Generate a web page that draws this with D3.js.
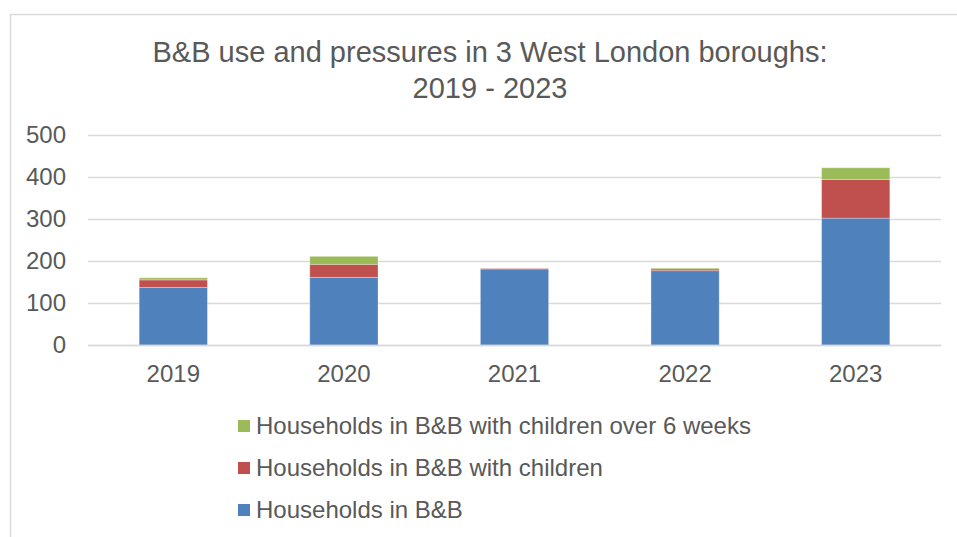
<!DOCTYPE html>
<html>
<head>
<meta charset="utf-8">
<script src="https://cdn.jsdelivr.net/npm/d3@7"></script>
<style>
  html, body { margin: 0; padding: 0; background: #fff; overflow: hidden; }
  svg { display: block; font-family: "Liberation Sans", Arial, sans-serif; }
</style>
</head>
<body>
<svg id="chart" width="957" height="537"></svg>
<script>
// Years on the category axis
const years = ["2019", "2020", "2021", "2022", "2023"];

// Stacked series (bottom to top)
const householdsInBB = [137, 161, 181, 177, 302];
const withChildren = [18, 31, 1, 4, 92];
const withChildrenOver6Weeks = [5, 19, 0, 2, 28];

const seriesNames = [
  "Households in B&B",
  "Households in B&B with children",
  "Households in B&B with children over 6 weeks"
];
const seriesColors = ["#4F81BD", "#C0504D", "#9BBB59"];

const yTicks = [0, 100, 200, 300, 400, 500];
const titleLines = ["B&B use and pressures in 3 West London boroughs:", "2019 - 2023"];

const rows = years.map((y, i) => ({
  year: y,
  s0: householdsInBB[i],
  s1: withChildren[i],
  s2: withChildrenOver6Weeks[i]
}));

const svg = d3.select("#chart");
const textColor = "#595959";

// chart area frame
svg.append("rect")
  .attr("x", 10.5).attr("y", 14.5)
  .attr("width", 1000).attr("height", 600)
  .attr("fill", "#fff")
  .attr("stroke", "#D9D9D9").attr("stroke-width", 1.5);

const plot = { left: 88, right: 941, top: 135, bottom: 345 };

const x = d3.scaleBand()
  .domain(years)
  .range([plot.left, plot.right])
  .paddingInner(0.6)
  .paddingOuter(0.3);

const y = d3.scaleLinear()
  .domain([0, 500])
  .range([plot.bottom, plot.top]);

// title
svg.append("g").selectAll("text")
  .data(titleLines)
  .join("text")
  .attr("x", 490)
  .attr("y", (d, i) => 62 + i * 36)
  .attr("text-anchor", "middle")
  .attr("fill", textColor)
  .attr("font-size", 29)
  .text(d => d);

// value axis with gridlines
const yAxis = svg.append("g")
  .attr("transform", `translate(${plot.left},0)`)
  .call(d3.axisLeft(y).tickValues(yTicks).tickSize(-(plot.right - plot.left)).tickPadding(22));
yAxis.select(".domain").remove();
yAxis.selectAll(".tick line").attr("stroke", "#D9D9D9").attr("stroke-width", 1.5);
yAxis.selectAll(".tick text")
  .attr("fill", textColor)
  .attr("font-size", 24)
  .attr("font-family", "Liberation Sans, Arial, sans-serif");

// stacked bars
const stack = d3.stack().keys(["s0", "s1", "s2"]);
const stacked = stack(rows);

svg.append("g").selectAll("g")
  .data(stacked)
  .join("g")
  .attr("fill", (d, i) => seriesColors[i])
  .selectAll("rect")
  .data(d => d)
  .join("rect")
  .attr("x", d => x(d.data.year))
  .attr("width", x.bandwidth())
  .attr("y", d => y(d[1]))
  .attr("height", d => Math.max(0, y(d[0]) - y(d[1])))
  .attr("stroke", "#fff")
  .attr("stroke-opacity", d => (y(d[0]) - y(d[1]) > 0 ? 0.3 : 0))
  .attr("stroke-width", 1);

// category axis
const xAxis = svg.append("g")
  .attr("transform", `translate(0,${plot.bottom})`)
  .call(d3.axisBottom(x).tickSize(0).tickPadding(20));
xAxis.select(".domain").attr("stroke", "#D9D9D9").attr("stroke-width", 1.5);
xAxis.selectAll(".tick text")
  .attr("fill", textColor)
  .attr("font-size", 24)
  .attr("font-family", "Liberation Sans, Arial, sans-serif");

// legend, top entry is the last series
const legendOrder = [2, 1, 0];
const legend = svg.append("g").selectAll("g")
  .data(legendOrder)
  .join("g")
  .attr("transform", (d, i) => `translate(238,${426 + i * 42})`);
legend.append("rect")
  .attr("x", 0).attr("y", -6)
  .attr("width", 12).attr("height", 12)
  .attr("fill", d => seriesColors[d]);
legend.append("text")
  .attr("x", 18).attr("y", 8)
  .attr("fill", textColor)
  .attr("font-size", 24)
  .text(d => seriesNames[d]);
</script>
</body>
</html>
